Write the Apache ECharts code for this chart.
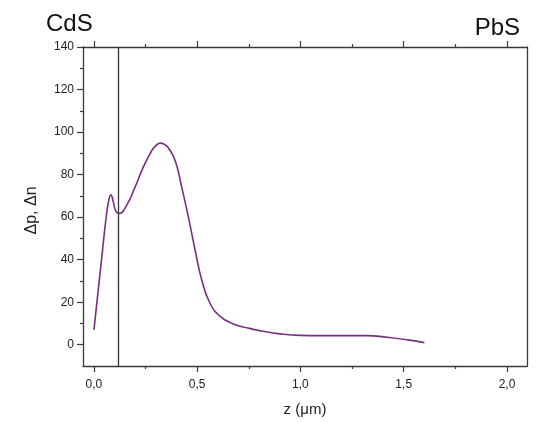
<!DOCTYPE html>
<html>
<head>
<meta charset="utf-8">
<script src="https://cdn.jsdelivr.net/npm/echarts@6/dist/echarts.min.js"></script>
<style>
  html, body { margin: 0; padding: 0; background: #fff; }
  #chart { width: 537px; height: 422px; }
</style>
</head>
<body>
<div id="chart"></div>
<script>
// depth z (um) and excess carriers dp, dn
var zValues = [0.000, 0.020, 0.040, 0.058, 0.070, 0.082, 0.093, 0.105, 0.123, 0.158,
    0.199, 0.239, 0.280, 0.300, 0.320, 0.340, 0.360, 0.393, 0.425, 0.457,
    0.490, 0.522, 0.562, 0.611, 0.675, 0.748, 0.820, 0.900, 1.000, 1.100,
    1.200, 1.320, 1.420, 1.520, 1.600];
var dpValues = [7.0, 25, 43, 59, 67, 70.5, 67.5, 63, 61.7, 65.5,
    74.1, 83.5, 91.3, 93.6, 94.8, 94.3, 92.6, 86.6, 74.1, 60.1,
    44.5, 30.4, 19.5, 13.3, 9.8, 7.8, 6.3, 5.1, 4.4, 4.3,
    4.3, 4.3, 3.5, 2.3, 1.0];

var interfaceZ = 0.116;   // CdS / PbS boundary

var xMajor = [0, 0.5, 1.0, 1.5, 2.0];
var xMinor = [0.25, 0.75, 1.25, 1.75];
var yMajor = [0, 20, 40, 60, 80, 100, 120, 140];
var yMinor = [10, 30, 50, 70, 90, 110, 130];

var axisColor = '#3a3a3a';
var fontFam = 'Liberation Sans, Arial, sans-serif';

var myChart = echarts.init(document.getElementById('chart'));

function xAx(pos, ticks, len, withLine, withLabel, name) {
    return {
        type: 'value',
        position: pos,
        min: -0.053,
        max: 2.097,
        name: name || '',
        nameLocation: 'middle',
        nameGap: 36,
        nameTextStyle: { fontFamily: fontFam, fontSize: 15, color: '#222' },
        axisLine: { show: withLine, onZero: false, lineStyle: { color: axisColor, width: 1.3 } },
        axisTick: { show: ticks.length > 0, customValues: ticks, length: len, inside: false,
            lineStyle: { color: axisColor, width: 1.2 } },
        axisLabel: { show: withLabel, customValues: ticks, margin: 13,
            fontFamily: fontFam, fontSize: 12, color: '#222',
            formatter: function (v) { return v.toFixed(1).replace('.', ','); } },
        splitLine: { show: false }
    };
}

function yAx(pos, ticks, len, withLine, withLabel, name) {
    return {
        type: 'value',
        position: pos,
        min: -10,
        max: 140,
        name: name || '',
        nameLocation: 'middle',
        nameGap: 43,
        nameTextStyle: { fontFamily: fontFam, fontSize: 16, color: '#222', padding: [0, 8, 0, 0] },
        axisLine: { show: withLine, onZero: false, lineStyle: { color: axisColor, width: 1.3 } },
        axisTick: { show: ticks.length > 0, customValues: ticks, length: len, inside: false,
            lineStyle: { color: axisColor, width: 1.2 } },
        axisLabel: { show: withLabel, customValues: ticks, margin: 9,
            fontFamily: fontFam, fontSize: 12, color: '#222' },
        splitLine: { show: false }
    };
}

var lineData = zValues.map(function (z, i) { return [z, dpValues[i]]; });

option = {
    animation: false,
    backgroundColor: '#fff',
    grid: { left: 83, right: 10, top: 47, bottom: 54 },
    xAxis: [
        xAx('bottom', xMajor, 6, true, true, 'z (\u03bcm)'),
        xAx('bottom', xMinor, 3, false, false),
        xAx('top', xMajor, 6, true, false),
        xAx('top', xMinor, 3, false, false)
    ],
    yAxis: [
        yAx('left', yMajor, 6, true, true, '\u0394p, \u0394n'),
        yAx('left', yMinor, 3, false, false),
        yAx('right', [], 0, true, false)
    ],
    graphic: [
        { type: 'text', left: 46, top: 12,
          style: { text: 'CdS', fontFamily: fontFam, fontSize: 24, fill: '#111' } },
        { type: 'text', right: 17, top: 16,
          style: { text: 'PbS', fontFamily: fontFam, fontSize: 24, fill: '#111' } }
    ],
    series: [{
        type: 'line',
        xAxisIndex: 0,
        yAxisIndex: 0,
        data: lineData,
        smooth: 0.5,
        showSymbol: false,
        lineStyle: { color: '#7a2d80', width: 1.6 },
        markLine: {
            silent: true,
            symbol: ['none', 'none'],
            label: { show: false },
            lineStyle: { color: '#333', width: 1.3, type: 'solid' },
            data: [{ xAxis: interfaceZ }]
        }
    }]
};

myChart.setOption(option);
</script>
</body>
</html>
